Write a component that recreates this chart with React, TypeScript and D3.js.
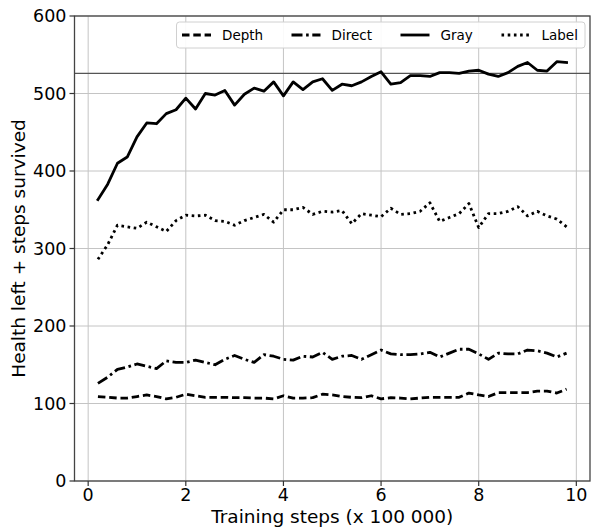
import React from "react";
import * as d3 from "d3";

// Training step positions (x 100 000)
const steps = [
  0.2, 0.4, 0.6, 0.8, 1.0, 1.2, 1.4, 1.6, 1.8, 2.0,
  2.2, 2.4, 2.6, 2.8, 3.0, 3.2, 3.4, 3.6, 3.8, 4.0,
  4.2, 4.4, 4.6, 4.8, 5.0, 5.2, 5.4, 5.6, 5.8, 6.0,
  6.2, 6.4, 6.6, 6.8, 7.0, 7.2, 7.4, 7.6, 7.8, 8.0,
  8.2, 8.4, 8.6, 8.8, 9.0, 9.2, 9.4, 9.6, 9.8,
];

const depth = [
  109, 108, 107, 107, 109, 111, 109, 106, 108, 112,
  110, 108, 108, 108, 107.5, 107.5, 107, 107, 106, 110,
  107, 107, 107.5, 112, 111, 109, 108, 107.5, 110, 106,
  107.5, 107, 106, 107, 108, 108, 108, 108, 113.5, 111,
  109, 114, 114, 114, 114, 116, 116, 113.5, 118.5,
];

const direct = [
  126, 134, 144, 147, 151, 148, 145, 155, 153, 153,
  156, 153, 150, 157, 162, 157, 153, 163, 161, 157,
  156, 161, 160, 166, 157, 161, 162, 157, 163, 169,
  164, 163, 163, 164, 166, 160, 165, 170, 170, 164,
  157, 165, 164, 164, 169, 168, 165, 160, 165,
];

const gray = [
  363, 383, 410, 418, 444, 462, 461, 474, 479, 494,
  480, 500, 498, 504, 485, 499, 507, 503, 515, 497,
  515, 505, 515, 519, 504, 512, 510, 515, 522, 528,
  512, 514, 523, 523, 522, 527, 527, 526, 529, 530,
  525, 522, 527, 535, 540, 530, 529, 541, 540,
];

const label = [
  286, 305, 330, 328, 326, 334, 328, 322, 336, 343,
  342, 343, 336, 335, 330, 336, 340, 344, 334, 350,
  350, 353, 344, 348, 347, 349, 332, 345, 343, 341,
  352, 344, 345, 348, 359, 335, 340, 345, 358, 327,
  345, 345, 348, 354, 342, 348, 342, 338, 328,
];

const referenceLevel = 526;

const xTicks = [0, 2, 4, 6, 8, 10];
const yTicks = [0, 100, 200, 300, 400, 500, 600];

const seriesNames = ["Depth", "Direct", "Gray", "Label"];
const seriesValues = [depth, direct, gray, label];
const seriesDash = ["7.5,3.8", "11,3.6,2.6,3.6", null, "2.6,3.6"];

const W = 592;
const H = 529;
const left = 74.5;
const right = 590;
const top = 16;
const bottom = 481;

const FONT = "'DejaVu Sans', sans-serif";

export default function App() {
  const x = d3.scaleLinear().domain([-0.28, 10.28]).range([left, right]);
  const y = d3.scaleLinear().domain([0, 600]).range([bottom, top]);

  const line = d3
    .line<number>()
    .x((_, i) => x(steps[i]))
    .y((v) => y(v));

  const legendX0 = 176.5;
  const legendX1 = 585;
  const legendY0 = 22;
  const legendY1 = 48;
  const legendMid = (legendY0 + legendY1) / 2;
  const legendHandleStarts = [182, 291.5, 400.5, 501.5];
  const handleLen = 29;

  return (
    <svg width={W} height={H} style={{ display: "block", position: "absolute", left: 0, top: 0 }}>
      <rect x={0} y={0} width={W} height={H} fill="#fff" />

      {/* grid */}
      <g stroke="#c4c4c4" strokeWidth={1}>
        {xTicks.map((t) => (
          <line key={"gx" + t} x1={x(t)} x2={x(t)} y1={top} y2={bottom} />
        ))}
        {yTicks.map((t) => (
          <line key={"gy" + t} x1={left} x2={right} y1={y(t)} y2={y(t)} />
        ))}
      </g>

      {/* reference level */}
      <line
        x1={left}
        x2={right}
        y1={y(referenceLevel)}
        y2={y(referenceLevel)}
        stroke="#555"
        strokeWidth={1.4}
      />

      {/* series */}
      {seriesValues.map((vals, k) => (
        <path
          key={seriesNames[k]}
          d={line(vals) || ""}
          fill="none"
          stroke="#000"
          strokeWidth={2.8}
          strokeLinejoin="round"
          strokeLinecap={seriesDash[k] ? "butt" : "square"}
          strokeDasharray={seriesDash[k] || undefined}
        />
      ))}

      {/* spines */}
      <rect
        x={left}
        y={top}
        width={right - left}
        height={bottom - top}
        fill="none"
        stroke="#444"
        strokeWidth={1.3}
      />

      {/* x ticks */}
      {xTicks.map((t) => (
        <g key={"xt" + t}>
          <line x1={x(t)} x2={x(t)} y1={bottom} y2={bottom + 5} stroke="#333" strokeWidth={1.2} />
          <text
            x={x(t)}
            y={500.5}
            textAnchor="middle"
            fontFamily={FONT}
            fontSize={17.5}
            fill="#000"
          >
            {t}
          </text>
        </g>
      ))}

      {/* y ticks */}
      {yTicks.map((t) => (
        <g key={"yt" + t}>
          <line x1={left - 5} x2={left} y1={y(t)} y2={y(t)} stroke="#333" strokeWidth={1.2} />
          <text
            x={left - 8}
            y={y(t)}
            dy="0.36em"
            textAnchor="end"
            fontFamily={FONT}
            fontSize={17.5}
            fill="#000"
          >
            {t}
          </text>
        </g>
      ))}

      {/* axis labels */}
      <text
        x={(left + right) / 2}
        y={522.5}
        textAnchor="middle"
        fontFamily={FONT}
        fontSize={18.5}
        fill="#000"
      >
        Training steps (x 100 000)
      </text>
      <text
        transform={`translate(25,${(top + bottom) / 2}) rotate(-90)`}
        textAnchor="middle"
        fontFamily={FONT}
        fontSize={18.5}
        fill="#000"
      >
        Health left + steps survived
      </text>

      {/* legend */}
      <rect
        x={legendX0}
        y={legendY0}
        width={legendX1 - legendX0}
        height={legendY1 - legendY0}
        rx={3}
        fill="#fff"
        fillOpacity={0.9}
        stroke="#d0d0d0"
        strokeWidth={1}
      />
      {seriesNames.map((name, k) => (
        <g key={"lg" + name}>
          <line
            x1={legendHandleStarts[k]}
            x2={legendHandleStarts[k] + handleLen}
            y1={legendMid}
            y2={legendMid}
            stroke="#000"
            strokeWidth={2.8}
            strokeLinecap="butt"
            strokeDasharray={seriesDash[k] || undefined}
          />
          <text
            x={legendHandleStarts[k] + handleLen + 11}
            y={legendMid}
            dy="0.36em"
            fontFamily={FONT}
            fontSize={13.5}
            fill="#000"
          >
            {name}
          </text>
        </g>
      ))}
    </svg>
  );
}
